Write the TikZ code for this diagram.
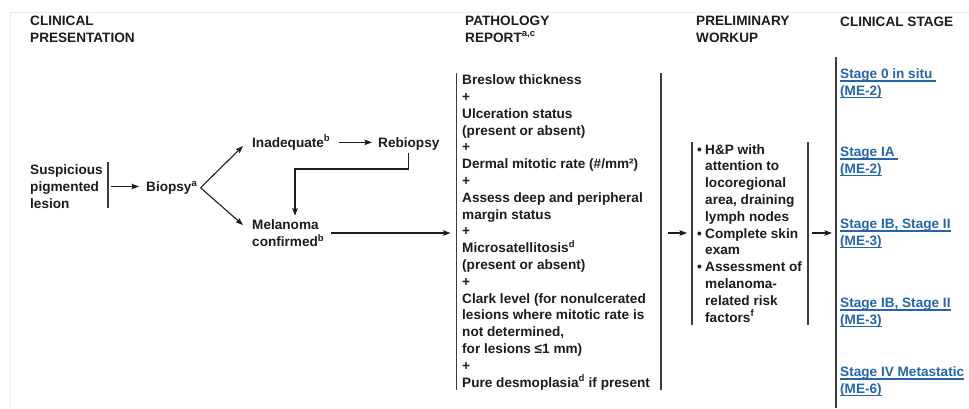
\documentclass[tikz,border=0pt]{standalone}
\usepackage{fontspec}
\setmainfont{Liberation Sans}
\usetikzlibrary{arrows.meta}

\definecolor{ink}{HTML}{1C1C1C}
\definecolor{rulegray}{HTML}{3C3C3C}
\definecolor{stageblue}{HTML}{2566AA}
\definecolor{framegray}{HTML}{ECECEC}

% bullet item helpers for the workup list
\newcommand\blt{\makebox[8pt][l]{•}}
\newcommand\ind{\hspace*{8pt}}
% underlined link text
\newsavebox\lnkbox
\newcommand\lnk[1]{\sbox\lnkbox{#1}\rlap{\rule[-3.4pt]{\wd\lnkbox}{1.2pt}}\usebox\lnkbox}

% text nodes are placed by the baseline of their last line
\tikzset{
  txt/.style={inner sep=0pt, anchor=base west, align=left, text=ink,
    font=\bfseries\fontsize{13.6}{16.8}\selectfont},
  stagetxt/.style={txt, text=stageblue},
  flow/.style={draw=ink, line width=1.1pt,
    -{Stealth[length=7.5pt,width=5.5pt,inset=1.2pt]}},
  bar/.style={draw=rulegray, line width=1.3pt},
}

\begin{document}
\begin{tikzpicture}[x=1pt,y=-1pt]
\useasboundingbox (0,0) rectangle (969,408);
\fill[white] (0,0) rectangle (969,408);
\draw[framegray, line width=0.8pt] (10,408) -- (10,12.5) -- (969,12.5);

% column headings
\node[txt] (hclin) at (30,42) {CLINICAL\\PRESENTATION};
\node[txt] (hpath) at (465,42) {PATHOLOGY\\REPORT\textsuperscript{a,c}};
\node[txt] (hwork) at (696,42) {PRELIMINARY\\WORKUP};
\node[txt] (hstage) at (840,26) {CLINICAL STAGE};

% clinical presentation and biopsy
\node[txt] (lesion) at (30,208.5) {Suspicious\\pigmented\\lesion};
\coordinate (lesT) at (108,162);
\coordinate (lesB) at (108,208);
\coordinate (lesM) at (108,186.5);
\draw[bar] (lesT) -- (lesB);

\node[txt] (biopsy) at (146,191.5) {Biopsy\textsuperscript{a}};
\node[txt] (inadequate) at (252,147) {Inadequate\textsuperscript{b}};
\node[txt] (rebiopsy) at (378,147) {Rebiopsy};
\node[txt] (melanoma) at (252,246.5) {Melanoma\\confirmed\textsuperscript{b}};

\draw[flow, shorten <=3pt, shorten >=7pt] (lesM) -- (lesM -| biopsy.west);
\draw[flow] ([xshift=3pt]biopsy.east) -- ([xshift=-9pt,yshift=1pt]inadequate.base west);
\draw[flow] ([xshift=3pt]biopsy.east) -- ([xshift=-9pt,yshift=21.5pt]melanoma.base west);
\draw[flow, shorten <=8pt, shorten >=6pt] (inadequate.east) -- (inadequate.east -| rebiopsy.west);

\coordinate (turn) at (295,169);
\draw[flow, shorten >=4pt] ([yshift=-3pt]rebiopsy.south) |- (turn) -- (turn |- melanoma.north);

% pathology report
\coordinate (pathTL) at (456.5,73);
\coordinate (pathBL) at (456.5,390);
\coordinate (pathTR) at (661,73);
\coordinate (pathBR) at (661,390);
\draw[bar] (pathTL) -- (pathBL);
\draw[bar] (pathTR) -- (pathBR);
\node[txt] (path) at (462,387) {Breslow thickness\\+\\Ulceration status\\(present or absent)\\+\\
Dermal mitotic rate (\#/mm²)\\+\\Assess deep and peripheral\\margin status\\+\\
Microsatellitosis\textsuperscript{d}\\(present or absent)\\+\\Clark level (for nonulcerated\\
lesions where mitotic rate is\\not determined,\\for lesions ≤1 mm)\\+\\
Pure desmoplasia\textsuperscript{d} if present};

\coordinate (flowrow) at (0,233);
\draw[flow, shorten <=7pt, shorten >=6pt] (melanoma.east |- flowrow) -- (pathTL |- flowrow);

% preliminary workup
\coordinate (workTL) at (692,142);
\coordinate (workBL) at (692,325);
\coordinate (workTR) at (808,142);
\coordinate (workBR) at (808,325);
\draw[bar] (workTL) -- (workBL);
\draw[bar] (workTR) -- (workBR);
\node[txt] (workup) at (697,322) {\blt H\&P with\\\ind attention to\\\ind locoregional\\
\ind area, draining\\\ind lymph nodes\\\blt Complete skin\\\ind exam\\
\blt Assessment of\\\ind melanoma-\\\ind related risk\\\ind factors\textsuperscript{f}};

\draw[flow, shorten <=7pt, shorten >=5pt] (pathTR |- flowrow) -- (workTL |- flowrow);

% clinical stage
\coordinate (stageT) at (836,57);
\coordinate (stageB) at (836,408);
\draw[bar] (stageT) -- (stageB);
\draw[flow, shorten <=4pt, shorten >=4pt] (workTR |- flowrow) -- (stageT |- flowrow);

\node[stagetxt] (st0) at (840,95) {\lnk{Stage 0 in situ\ }\\\lnk{(ME-2)}};
\node[stagetxt] (st1) at (840,173) {\lnk{Stage IA\ }\\\lnk{(ME-2)}};
\node[stagetxt] (st2) at (840,245) {\lnk{Stage IB, Stage II}\\\lnk{(ME-3)}};
\node[stagetxt] (st3) at (840,324) {\lnk{Stage IB, Stage II}\\\lnk{(ME-3)}};
\node[stagetxt] (st4) at (840,393) {\lnk{Stage IV Metastatic}\\\lnk{(ME-6)}};
\end{tikzpicture}
\end{document}
